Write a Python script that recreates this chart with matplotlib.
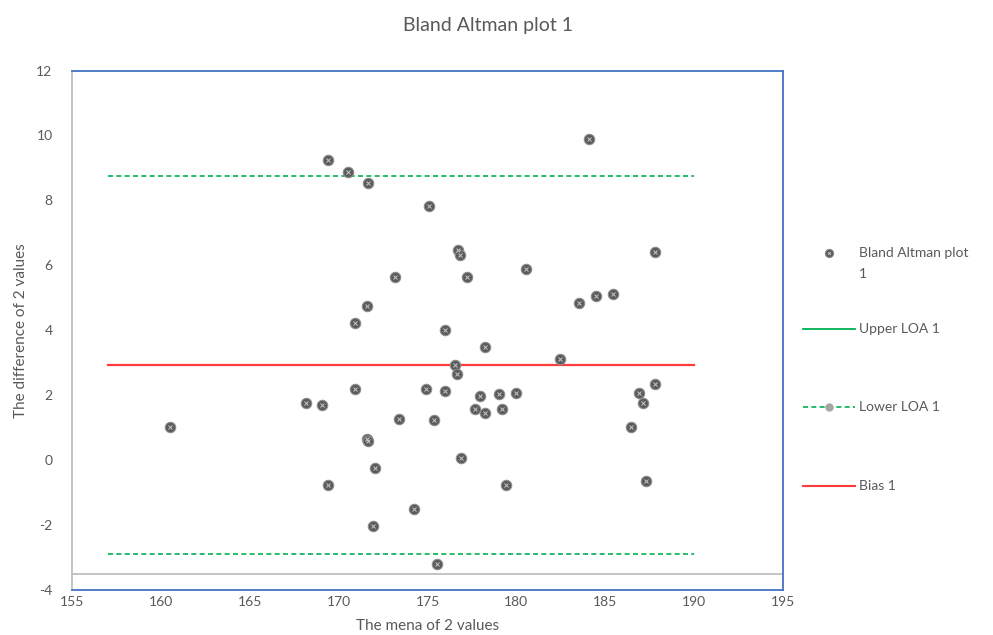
import numpy as np
import matplotlib
matplotlib.use('Agg')
import matplotlib.pyplot as plt
from matplotlib.lines import Line2D

plt.rcParams['font.family'] = ['Lato', 'DejaVu Sans']
plt.rcParams['axes.unicode_minus'] = False

# mean of the two measurements / difference of the two measurements
mean_vals = [160.51, 168.16, 169.08, 169.39, 169.38, 170.53, 170.92, 170.92, 171.67, 171.58,
             171.60, 171.65, 172.05, 171.95, 173.19, 173.38, 174.24, 175.10, 174.90, 175.37,
             175.52, 176.74, 176.83, 177.20, 180.52, 175.97, 178.25, 176.53, 176.64, 175.97,
             177.95, 179.00, 179.96, 177.69, 178.25, 179.21, 176.90, 179.42, 184.07, 187.80,
             183.50, 184.46, 185.42, 182.45, 187.80, 186.92, 187.14, 186.47, 187.31]
diff_vals = [1.02, 1.76, 1.70, 9.25, -0.76, 8.89, 4.21, 2.18, 8.53, 4.75,
             0.66, 0.58, -0.24, -2.02, 5.64, 1.28, -1.50, 7.83, 2.18, 1.23,
             -3.19, 6.47, 6.31, 5.63, 5.89, 4.01, 3.49, 2.92, 2.65, 2.13,
             1.98, 2.03, 2.08, 1.59, 1.45, 1.59, 0.07, -0.77, 9.88, 6.41,
             4.85, 5.07, 5.12, 3.12, 2.33, 2.08, 1.76, 1.03, -0.65]

line_x = [157, 190]
upper_loa = 8.75
lower_loa = -2.90
bias = 2.93
axis_cross = -3.5

x_ticks = [155, 160, 165, 170, 175, 180, 185, 190, 195]
y_ticks = [-4, -2, 0, 2, 4, 6, 8, 10, 12]

txt = '#595959'
green = '#00B050'
red = '#FF3B3B'
blue = '#4472C4'

fig = plt.figure(figsize=(9.93, 6.35), dpi=100)
ax = fig.add_axes([0.0725, 0.0709, 0.716, 0.818])

ax.plot(line_x, [upper_loa, upper_loa], color=green, lw=1.2, ls=(0, (3, 2)))
ax.plot(line_x, [lower_loa, lower_loa], color=green, lw=1.2, ls=(0, (3, 2)))
ax.plot(line_x, [bias, bias], color=red, lw=1.6)
ax.axhline(axis_cross, color='#bfbfbf', lw=1.3)

ax.plot(mean_vals, diff_vals, ls='none', marker='o', ms=7.5, mfc='#5b5b5b', mec='#8c8c8c', mew=0.8)
ax.plot(mean_vals, diff_vals, ls='none', marker='x', ms=2.4, mec='#c8c8c8', mew=0.7)

ax.set_xlim(155, 195)
ax.set_ylim(-4, 12)
ax.set_xticks(x_ticks)
ax.set_yticks(y_ticks)
ax.tick_params(length=0, labelsize=10, colors=txt, pad=4)
ax.tick_params(axis='y', pad=14)

for s in ['top', 'right', 'bottom']:
    ax.spines[s].set_color(blue)
    ax.spines[s].set_linewidth(1.3)
ax.spines['left'].set_color('#bfbfbf')
ax.spines['left'].set_linewidth(1.3)

ax.set_xlabel('The mena of 2 values', fontsize=11, color=txt, labelpad=8)
ax.set_ylabel('The difference of 2 values', fontsize=11, color=txt, labelpad=6)
fig.text(0.4915, 0.96, 'Bland Altman plot 1', ha='center', va='center', fontsize=14, color=txt)

# legend drawn by hand to match the spacing of the original
lx0, lx1, ltx = 803 / 993, 855 / 993, 859 / 993
rows = [253, 329, 407, 486]
fy = [1 - r / 635 for r in rows]
fig.add_artist(Line2D([(lx0 + lx1) / 2], [fy[0]], transform=fig.transFigure, ls='none',
                      marker='o', ms=6, mfc='#5b5b5b', mec='#8c8c8c', mew=0.7))
fig.add_artist(Line2D([(lx0 + lx1) / 2], [fy[0]], transform=fig.transFigure, ls='none',
                      marker='x', ms=2, mec='#c8c8c8', mew=0.7))
fig.text(ltx, fy[0], 'Bland Altman plot', va='center', fontsize=10, color=txt)
fig.text(ltx, 1 - 274 / 635, '1', va='center', fontsize=10, color=txt)
fig.add_artist(Line2D([lx0, lx1], [fy[1], fy[1]], transform=fig.transFigure, color=green, lw=1.3))
fig.text(ltx, fy[1], 'Upper LOA 1', va='center', fontsize=10, color=txt)
fig.add_artist(Line2D([lx0, lx1], [fy[2], fy[2]], transform=fig.transFigure, color=green, lw=1.2,
                      ls=(0, (3, 2))))
fig.add_artist(Line2D([(lx0 + lx1) / 2], [fy[2]], transform=fig.transFigure, ls='none',
                      marker='o', ms=5, mfc='#a6a6a6', mec='#a6a6a6'))
fig.text(ltx, fy[2], 'Lower LOA 1', va='center', fontsize=10, color=txt)
fig.add_artist(Line2D([lx0, lx1], [fy[3], fy[3]], transform=fig.transFigure, color=red, lw=1.5))
fig.text(ltx, fy[3], 'Bias 1', va='center', fontsize=10, color=txt)

fig.savefig('out.png', dpi=100)
